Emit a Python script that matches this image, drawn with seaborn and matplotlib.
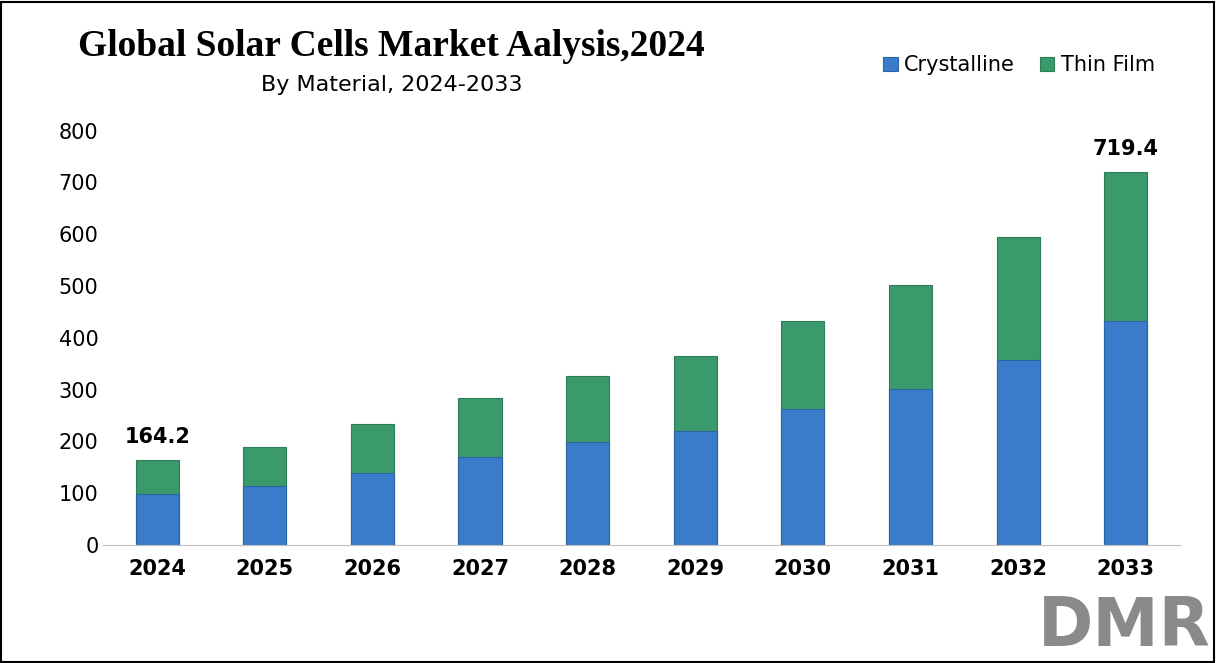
import numpy as np
import matplotlib.pyplot as plt
import seaborn as sns
import pandas as pd

years = ['2024', '2025', '2026', '2027', '2028', '2029', '2030', '2031', '2032', '2033']
crystalline = [99, 114, 139, 169, 198, 221, 262, 302, 358, 432]
total = [164.2, 190, 234, 283, 327, 364, 432, 502, 595, 719.4]

sns.set_style('white')
plt.rcParams['font.family'] = ['DejaVu Sans']
plt.rcParams['text.color'] = 'black'
plt.rcParams['xtick.color'] = 'black'
plt.rcParams['ytick.color'] = 'black'

fig = plt.figure(figsize=(12.16, 6.63), dpi=100)
ax = fig.add_axes([0.085, 0.178, 0.885, 0.625])

df = pd.DataFrame({'year': years, 'Crystalline': crystalline, 'Total': total})
sns.barplot(data=df, x='year', y='Total', color='#3b9a6b', width=0.4, ax=ax,
            saturation=1, label='Thin Film', edgecolor='#2f7d56', linewidth=0.8)
sns.barplot(data=df, x='year', y='Crystalline', color='#3a7cc9', width=0.4, ax=ax,
            saturation=1, label='Crystalline', edgecolor='#2e63a3', linewidth=0.8)

h, l = ax.get_legend_handles_labels()
if ax.get_legend() is not None:
    ax.get_legend().remove()

ax.set_ylim(0, 800)
ax.set_yticks(range(0, 801, 100))
ax.set_xlabel('')
ax.set_ylabel('')
ax.tick_params(axis='y', labelsize=15, length=0)
ax.tick_params(axis='x', labelsize=15, length=0, pad=10)
for lbl in ax.get_xticklabels():
    lbl.set_fontweight('bold')
sns.despine(ax=ax, left=True)
ax.spines['bottom'].set_color('#bfbfbf')

for i in (0, len(years) - 1):
    ax.text(i, total[i] + 25, f'{total[i]:.1f}', ha='center', va='bottom',
            fontsize=15, fontweight='bold')

order = [l.index('Crystalline'), l.index('Thin Film')]
fig.legend([h[i] for i in order], [l[i] for i in order], loc='upper right',
           bbox_to_anchor=(0.965, 0.945), ncol=2, frameon=False, fontsize=15,
           handlelength=0.7, handleheight=0.7, columnspacing=1.2, handletextpad=0.3)

fig.text(0.322, 0.93, 'Global Solar Cells Market Aalysis,2024', ha='center', va='center',
         fontsize=27, fontweight='bold', family='Liberation Serif')
fig.text(0.322, 0.872, 'By Material, 2024-2033', ha='center', va='center', fontsize=16)

fig.text(0.925, 0.055, 'DMR', ha='center', va='center', fontsize=48, fontweight='bold',
         color='#8a8a8a')

fig.patches.append(plt.Rectangle((0.001, 0.002), 0.997, 0.995, transform=fig.transFigure,
                                 fill=False, edgecolor='black', linewidth=1.5))

fig.savefig('out.png', dpi=100)
